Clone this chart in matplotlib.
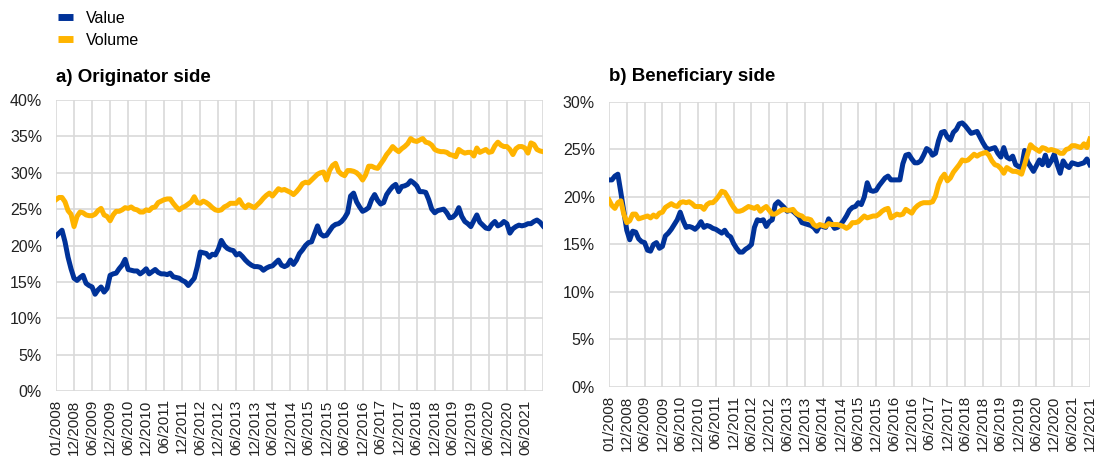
import numpy as np
import matplotlib
matplotlib.use("Agg")
import matplotlib.pyplot as plt
from matplotlib.ticker import PercentFormatter

plt.rcParams["font.family"] = ["Liberation Sans", "DejaVu Sans"]

# monthly shares (%), 163 months, first label 01/2008
orig_value = [
    21.3, 21.7, 22.1, 20.5, 18.4, 16.8, 15.5, 15.2, 15.6, 15.9,
    14.8, 14.5, 14.3, 13.3, 13.9, 14.3, 13.6, 14.1, 15.9, 16.1,
    16.2, 16.8, 17.3, 18.1, 16.7, 16.6, 16.5, 16.5, 16.1, 16.4,
    16.8, 16.1, 16.4, 16.7, 16.3, 16.1, 16.1, 16.0, 16.2, 15.7,
    15.6, 15.5, 15.2, 15.0, 14.5, 15.0, 15.5, 17.1, 19.1, 19.0,
    18.9, 18.4, 18.8, 18.7, 19.5, 20.7, 20.0, 19.6, 19.4, 19.3,
    18.7, 18.9, 18.5, 18.0, 17.6, 17.3, 17.1, 17.1, 17.0, 16.6,
    16.9, 17.1, 17.2, 17.6, 18.0, 17.3, 17.1, 17.3, 18.0, 17.4,
    18.0, 18.9, 19.4, 20.0, 20.4, 20.5, 21.6, 22.7, 21.6, 21.3,
    21.4, 22.0, 22.6, 22.9, 23.0, 23.3, 23.8, 24.5, 26.8, 27.2,
    26.0, 25.3, 24.7, 24.9, 25.2, 26.3, 27.0, 26.2, 25.7, 25.9,
    27.0, 27.6, 28.1, 28.4, 27.4, 28.1, 28.2, 28.4, 28.9, 28.6,
    28.2, 27.4, 27.4, 27.3, 26.3, 25.0, 24.5, 24.8, 24.9, 25.0,
    24.5, 23.8, 23.9, 24.3, 25.2, 24.0, 23.3, 23.0, 22.6, 23.4,
    24.2, 23.2, 22.8, 22.4, 22.3, 22.9, 23.3, 22.7, 22.9, 23.3,
    23.0, 21.7, 22.3, 22.6, 22.8, 22.7, 22.8, 23.0, 23.0, 23.3,
    23.5, 23.2, 22.7,
]
orig_volume = [
    26.3, 26.6, 26.6, 26.0, 24.8, 24.3, 22.6, 24.0, 24.6, 24.5,
    24.2, 24.1, 24.1, 24.3, 24.8, 25.1, 24.2, 24.0, 23.4, 24.2,
    24.7, 24.7, 24.9, 25.2, 25.1, 25.3, 25.0, 24.9, 24.6, 24.6,
    24.9, 24.8, 25.2, 25.3, 25.9, 26.1, 26.3, 26.4, 26.4, 25.8,
    25.3, 24.9, 25.2, 25.4, 25.7, 26.0, 26.7, 25.9, 25.8, 26.1,
    25.9, 25.6, 25.2, 24.9, 24.8, 24.9, 25.3, 25.5, 25.8, 25.8,
    25.8, 26.3, 25.6, 25.2, 25.6, 25.4, 25.2, 25.6, 26.0, 26.5,
    26.9, 27.2, 26.8, 27.3, 27.8, 27.6, 27.7, 27.5, 27.3, 27.0,
    27.4, 27.9, 28.5, 28.7, 28.6, 29.0, 29.4, 29.8, 30.0, 30.1,
    29.0, 30.3, 31.0, 31.3, 30.2, 29.8, 29.6, 30.3, 30.3, 30.2,
    30.0, 29.6, 29.0, 29.7, 30.9, 30.9, 30.7, 30.6, 31.2, 31.8,
    32.5, 33.0, 33.6, 33.2, 32.9, 33.3, 33.6, 34.0, 34.7, 34.4,
    34.3, 34.5, 34.7, 34.2, 34.1, 33.8, 33.2, 33.0, 32.9, 32.9,
    32.8, 32.5, 32.4, 32.2, 33.2, 32.9, 32.7, 32.8, 32.8, 32.3,
    33.4, 32.8, 33.0, 33.2, 32.8, 32.9, 33.7, 34.2, 33.8, 33.6,
    33.6, 33.2, 32.5, 33.3, 33.6, 33.6, 33.4, 32.7, 34.1, 33.9,
    33.2, 33.0, 32.9,
]
benef_value = [
    21.8, 21.8, 22.2, 22.4, 20.5, 18.5, 16.5, 15.5, 16.4, 16.3,
    15.6, 15.3, 15.2, 14.4, 14.3, 15.0, 15.2, 14.6, 14.8, 15.9,
    16.2, 16.6, 17.1, 17.6, 18.4, 17.5, 16.8, 16.9, 16.8, 16.6,
    16.9, 17.4, 16.8, 17.0, 16.9, 16.7, 16.6, 16.4, 16.2, 16.5,
    16.0, 15.8, 15.1, 14.6, 14.2, 14.2, 14.5, 14.7, 15.0, 16.8,
    17.6, 17.5, 17.6, 16.9, 17.4, 17.6, 19.2, 19.5, 19.2, 18.9,
    18.5, 18.6, 18.5, 18.2, 17.9, 17.3, 17.2, 17.1, 17.0, 16.8,
    16.4, 17.0, 16.9, 16.8, 17.7, 17.2, 16.7, 16.8, 17.1, 17.5,
    18.0, 18.6, 18.9, 19.0, 19.4, 19.2, 20.0, 21.5, 20.7, 20.6,
    20.7, 21.2, 21.6, 22.0, 22.2, 21.8, 21.8, 21.8, 21.8, 23.5,
    24.4, 24.5, 24.0, 23.6, 23.6, 23.8, 24.4, 25.1, 24.9, 24.4,
    24.6, 25.9, 26.8, 26.9, 26.3, 26.0, 26.8, 27.1, 27.7, 27.8,
    27.5, 27.1, 26.7, 26.8, 26.9, 26.3, 25.7, 25.2, 25.0, 25.1,
    25.2, 24.6, 24.2, 25.2, 24.2, 24.0, 24.3, 23.4, 23.2, 23.1,
    24.9, 23.7, 23.2, 22.7, 23.3, 23.9, 23.4, 24.4, 23.3, 23.8,
    24.5, 23.4, 22.5, 23.8, 23.3, 23.1, 23.6, 23.5, 23.4, 23.5,
    23.6, 24.0, 23.4,
]
benef_volume = [
    19.7, 19.1, 18.8, 19.4, 19.6, 18.2, 17.3, 17.5, 18.2, 18.2,
    17.7, 17.8, 17.9, 18.0, 17.8, 18.1, 17.9, 18.3, 18.4, 18.9,
    19.1, 19.3, 19.1, 19.0, 19.4, 19.5, 19.4, 19.5, 19.3, 19.0,
    19.0, 19.0, 18.7, 19.2, 19.4, 19.4, 19.7, 20.1, 20.6, 20.5,
    20.0, 19.4, 18.9, 18.5, 18.5, 18.6, 18.8, 19.0, 18.9, 18.8,
    19.0, 18.5, 18.8, 19.0, 18.6, 18.2, 18.2, 18.4, 18.6, 18.7,
    18.6, 18.6, 18.7, 18.3, 18.1, 18.0, 17.7, 17.7, 17.6, 17.1,
    16.9, 17.1, 17.0, 16.9, 17.2, 17.1, 17.1, 17.1, 17.0, 16.9,
    16.7, 16.9, 17.3, 17.3, 17.4, 17.7, 18.0, 17.8, 17.9, 18.0,
    18.0, 18.2, 18.5, 18.7, 18.8, 17.8, 18.0, 18.2, 18.1, 18.2,
    18.7, 18.5, 18.3, 18.8, 19.1, 19.3, 19.4, 19.4, 19.4, 19.5,
    20.1, 21.3, 22.0, 22.4, 21.7, 22.0, 22.6, 23.0, 23.4, 23.9,
    23.8, 23.9, 24.2, 24.5, 24.3, 24.5, 24.6, 24.7, 24.4, 23.8,
    23.4, 23.3, 23.0, 22.5, 23.1, 22.9, 22.7, 22.7, 22.6, 22.4,
    23.4, 24.5, 25.5, 25.2, 25.0, 24.8, 25.2, 25.1, 24.9, 25.0,
    24.9, 24.8, 24.6, 24.6, 25.0, 25.1, 25.4, 25.4, 25.3, 25.2,
    25.6, 25.2, 26.1,
]

tick_labels = ["01/2008", "12/2008", "06/2009", "12/2009", "06/2010", "12/2010",
               "06/2011", "12/2011", "06/2012", "12/2012", "06/2013", "12/2013",
               "06/2014", "12/2014", "06/2015", "12/2015", "06/2016", "12/2016",
               "06/2017", "12/2017", "06/2018", "12/2018", "06/2019", "12/2019",
               "06/2020", "12/2020", "06/2021", "12/2021"]

blue = "#003299"
yellow = "#FFB400"
grid_col = "#D9D9D9"

fig = plt.figure(figsize=(10.98, 4.57), dpi=100)
ax1 = fig.add_axes([0.051, 0.1444, 0.4435, 0.6368])
ax2 = fig.add_axes([0.5546, 0.1532, 0.438, 0.6236])

months = np.arange(len(orig_value))
ticks = np.arange(0, len(months), 6)


def style(ax, ymax, labels):
    ax.set_xlim(0, months[-1])
    ax.set_ylim(0, ymax)
    ax.set_yticks(np.arange(0, ymax + 0.1, 5))
    ax.yaxis.set_major_formatter(PercentFormatter(decimals=0))
    ax.set_xticks(ticks)
    ax.set_xticklabels(labels, rotation=90)
    ax.grid(True, color=grid_col, linewidth=1.2)
    ax.set_axisbelow(True)
    for s in ax.spines.values():
        s.set_visible(False)
    ax.tick_params(length=0, colors="#222222")
    ax.tick_params(axis="y", pad=10, labelsize=11.5)
    ax.tick_params(axis="x", pad=6, labelsize=11)


ax1.plot(months, orig_value, color=blue, lw=3.6, label="Value", solid_joinstyle="round")
ax1.plot(months, orig_volume, color=yellow, lw=3.6, label="Volume", solid_joinstyle="round")
style(ax1, 40, tick_labels[:-1] + [""])
ax1.set_title("a) Originator side", loc="left", fontsize=13.5, fontweight="bold", pad=13)

ax2.plot(months, benef_value, color=blue, lw=3.6, solid_joinstyle="round")
ax2.plot(months, benef_volume, color=yellow, lw=3.6, solid_joinstyle="round")
style(ax2, 30, tick_labels)
ax2.set_title("b) Beneficiary side", loc="left", fontsize=13.5, fontweight="bold", pad=15)

handles, labels = ax1.get_legend_handles_labels()
leg = fig.legend(handles, labels, loc="upper left", bbox_to_anchor=(0.040, 1.008),
                 frameon=False, fontsize=11.5, handlelength=0.9, handletextpad=0.8,
                 labelspacing=0.45)
for h in leg.get_lines():
    h.set_linewidth(5)
    h.set_solid_capstyle("butt")

fig.savefig("out.png", dpi=100)
